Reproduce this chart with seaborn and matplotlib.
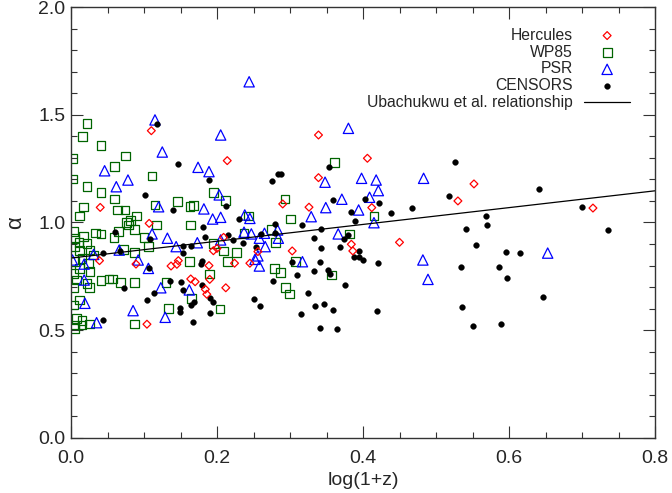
import matplotlib
matplotlib.use('Agg')
import matplotlib.pyplot as plt
from matplotlib.ticker import MultipleLocator, FormatStrFormatter
import seaborn as sns

# log(1+z) and spectral index alpha
herc_x = [0.040, 0.110, 0.039, 0.107, 0.089, 0.137, 0.104, 0.214, 0.209, 0.195,
          0.200, 0.147, 0.145, 0.189, 0.224, 0.190, 0.164, 0.170, 0.212, 0.184,
          0.186, 0.339, 0.339, 0.290, 0.326, 0.256, 0.303, 0.245, 0.406, 0.552,
          0.530, 0.412, 0.384, 0.386, 0.450, 0.715]
herc_y = [1.070, 1.426, 0.823, 0.996, 0.807, 0.798, 0.528, 1.287, 0.931, 0.869,
          0.880, 0.823, 0.806, 0.800, 0.811, 0.736, 0.738, 0.725, 0.697, 0.690,
          0.667, 1.406, 1.208, 1.086, 1.071, 0.865, 0.868, 0.811, 1.298, 1.179,
          1.100, 1.069, 0.899, 0.868, 0.908, 1.067]

wp85_x = [0.022, 0.016, 0.041, 0.002, 0.002, 0.022, 0.041, 0.017, 0.012, 0.003,
          0.034, 0.041, 0.005, 0.017, 0.011, 0.022, 0.005, 0.026, 0.012, 0.031,
          0.015, 0.005, 0.024, 0.012, 0.003, 0.026, 0.008, 0.022, 0.025, 0.003,
          0.041, 0.052, 0.012, 0.003, 0.008, 0.015, 0.005, 0.015, 0.025, 0.005,
          0.075, 0.060, 0.111, 0.060, 0.115, 0.064, 0.074, 0.090, 0.082, 0.076,
          0.079, 0.087, 0.117, 0.065, 0.059, 0.100, 0.106, 0.072, 0.087, 0.057,
          0.068, 0.087, 0.130, 0.133, 0.087, 0.195, 0.212, 0.146, 0.163, 0.168,
          0.164, 0.195, 0.209, 0.227, 0.162, 0.214, 0.190, 0.165, 0.204, 0.293,
          0.243, 0.301, 0.274, 0.237, 0.280, 0.308, 0.279, 0.287, 0.294, 0.299,
          0.361, 0.415, 0.381, 0.357]
wp85_y = [1.460, 1.398, 1.358, 1.296, 1.202, 1.166, 1.138, 1.072, 1.030, 0.957,
          0.951, 0.947, 0.927, 0.934, 0.906, 0.903, 0.888, 0.872, 0.869, 0.849,
          0.834, 0.818, 0.811, 0.787, 0.764, 0.772, 0.733, 0.718, 0.699, 0.699,
          0.730, 0.738, 0.640, 0.617, 0.555, 0.544, 0.524, 0.524, 0.529, 0.509,
          1.309, 1.259, 1.216, 1.109, 1.081, 1.058, 1.058, 1.030, 1.008, 0.999,
          0.988, 0.968, 0.988, 0.957, 0.929, 0.929, 0.888, 0.876, 0.860, 0.738,
          0.723, 0.721, 0.721, 0.602, 0.529, 1.138, 1.101, 1.097, 1.073, 1.078,
          0.988, 0.903, 0.868, 0.860, 0.818, 0.818, 0.761, 0.648, 0.599, 1.109,
          1.030, 1.016, 0.968, 0.950, 0.906, 0.818, 0.787, 0.769, 0.699, 0.668,
          1.278, 1.030, 0.947, 0.756]

psr_x = [0.046, 0.002, 0.031, 0.018, 0.018, 0.019, 0.035, 0.115, 0.125, 0.078,
         0.062, 0.120, 0.111, 0.132, 0.066, 0.092, 0.106, 0.123, 0.085, 0.129,
         0.205, 0.174, 0.189, 0.203, 0.182, 0.194, 0.205, 0.173, 0.144, 0.205,
         0.162, 0.244, 0.329, 0.238, 0.245, 0.237, 0.247, 0.265, 0.283, 0.284,
         0.258, 0.266, 0.256, 0.252, 0.317, 0.258, 0.380, 0.348, 0.398, 0.418,
         0.483, 0.421, 0.371, 0.409, 0.349, 0.394, 0.415, 0.366, 0.482, 0.489,
         0.653]
psr_y = [1.240, 0.826, 0.852, 0.807, 0.733, 0.625, 0.535, 1.476, 1.327, 1.197,
         1.166, 1.073, 0.947, 0.927, 0.872, 0.826, 0.787, 0.697, 0.591, 0.560,
         1.406, 1.256, 1.236, 1.128, 1.063, 1.016, 1.024, 0.906, 0.888, 0.919,
         0.687, 1.653, 1.027, 1.035, 1.019, 0.955, 0.947, 0.950, 0.965, 0.927,
         0.927, 0.888, 0.845, 0.829, 0.818, 0.798, 1.437, 1.187, 1.205, 1.197,
         1.205, 1.148, 1.108, 1.117, 1.069, 1.058, 0.999, 0.947, 0.826, 0.736,
         0.858]

censors_x = [0.044, 0.044, 0.118, 0.102, 0.140, 0.060, 0.108, 0.067, 0.107, 0.073,
             0.136, 0.113, 0.104, 0.147, 0.189, 0.212, 0.181, 0.184, 0.215, 0.222,
             0.153, 0.164, 0.154, 0.179, 0.178, 0.150, 0.179, 0.154, 0.168, 0.165,
             0.191, 0.194, 0.149, 0.149, 0.190, 0.167, 0.284, 0.288, 0.275, 0.230,
             0.316, 0.280, 0.280, 0.260, 0.235, 0.254, 0.333, 0.303, 0.333, 0.310,
             0.277, 0.325, 0.250, 0.259, 0.334, 0.315, 0.341, 0.353, 0.526, 0.518,
             0.359, 0.403, 0.422, 0.383, 0.439, 0.467, 0.389, 0.343, 0.541, 0.380,
             0.374, 0.555, 0.342, 0.368, 0.395, 0.388, 0.394, 0.400, 0.421, 0.341,
             0.534, 0.352, 0.355, 0.376, 0.347, 0.359, 0.419, 0.535, 0.365, 0.550,
             0.641, 0.700, 0.736, 0.568, 0.570, 0.596, 0.615, 0.586, 0.597, 0.647,
             0.589]
censors_y = [0.857, 0.548, 1.457, 1.128, 1.058, 0.955, 0.922, 0.869, 0.787, 0.697,
             0.730, 0.671, 0.640, 1.271, 1.197, 1.077, 0.978, 0.934, 0.942, 0.919,
             0.891, 0.891, 0.860, 0.821, 0.807, 0.723, 0.710, 0.687, 0.632, 0.617,
             0.651, 0.632, 0.602, 0.586, 0.581, 0.540, 1.225, 1.225, 1.194, 1.016,
             0.988, 0.993, 0.950, 0.947, 0.906, 0.888, 0.929, 0.818, 0.775, 0.756,
             0.730, 0.671, 0.645, 0.613, 0.613, 0.575, 0.512, 1.259, 1.279, 1.124,
             1.104, 1.109, 1.089, 1.050, 1.045, 1.066, 1.007, 0.970, 0.970, 0.942,
             0.922, 0.896, 0.880, 0.888, 0.869, 0.841, 0.839, 0.826, 0.811, 0.818,
             0.795, 0.780, 0.761, 0.710, 0.620, 0.594, 0.591, 0.607, 0.504, 0.520,
             1.155, 1.072, 0.965, 1.030, 0.988, 0.863, 0.858, 0.794, 0.742, 0.654,
             0.529]

# Ubachukwu et al. relation end points
rel_x = [0.0, 0.8]
rel_y = [0.835, 1.147]

sns.set_style('ticks')
plt.rcParams['font.family'] = ['Liberation Sans', 'DejaVu Sans']

fig = plt.figure(figsize=(6.72, 4.93), dpi=100)
ax = fig.add_axes([0.1057, 0.1116, 0.8690, 0.8742])

sns.lineplot(x=rel_x, y=rel_y, ax=ax, color='black', linewidth=0.9,
             label='Ubachukwu et al. relationship')
sns.scatterplot(x=wp85_x, y=wp85_y, ax=ax, marker='s', s=40, facecolor='none',
                edgecolor='#006400', linewidth=0.9, label='WP85')
sns.scatterplot(x=psr_x, y=psr_y, ax=ax, marker='^', s=55, facecolor='none',
                edgecolor='#0000ff', linewidth=0.9, label='PSR')
sns.scatterplot(x=censors_x, y=censors_y, ax=ax, marker='o', s=17, color='black',
                edgecolor='black', linewidth=0.3, label='CENSORS')
sns.scatterplot(x=herc_x, y=herc_y, ax=ax, marker='D', s=16, facecolor='none',
                edgecolor='#ff0000', linewidth=0.9, label='Hercules')

ax.set_xlim(0, 0.8)
ax.set_ylim(0, 2.0)
ax.xaxis.set_major_locator(MultipleLocator(0.2))
ax.xaxis.set_minor_locator(MultipleLocator(0.05))
ax.yaxis.set_major_locator(MultipleLocator(0.5))
ax.yaxis.set_minor_locator(MultipleLocator(0.1))
ax.xaxis.set_major_formatter(FormatStrFormatter('%.1f'))
ax.yaxis.set_major_formatter(FormatStrFormatter('%.1f'))

for sp in ax.spines.values():
    sp.set_visible(True)
    sp.set_color('#333333')
    sp.set_linewidth(1.0)
ax.tick_params(which='both', direction='in', top=True, right=True,
               color='#333333', width=0.8, labelsize=14)
ax.tick_params(which='major', length=8.5)
ax.tick_params(which='minor', length=4)
ax.tick_params(axis='x', which='major', pad=9)
ax.tick_params(axis='y', which='major', pad=4)

ax.set_xlabel('log(1+z)', fontsize=14, labelpad=3)
ax.set_ylabel('α', fontsize=16, labelpad=9)

handles, labels = ax.get_legend_handles_labels()
order = ['Hercules', 'WP85', 'PSR', 'CENSORS', 'Ubachukwu et al. relationship']
hmap = dict(zip(labels, handles))
ax.legend([hmap[k] for k in order], order, loc='upper right',
          bbox_to_anchor=(0.957, 0.952), frameon=False, markerfirst=False,
          fontsize=11.3, handlelength=2.9, handletextpad=0.75, labelspacing=0.12,
          borderpad=0, borderaxespad=0, scatterpoints=1)

fig.savefig('out.png', dpi=100)
